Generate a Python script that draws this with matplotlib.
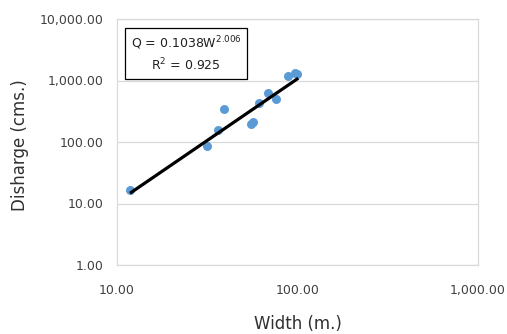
import matplotlib
matplotlib.use("Agg")
import matplotlib.pyplot as plt
import numpy as np
from matplotlib.ticker import FuncFormatter, NullLocator, FixedLocator

width_m = [11.8, 31.7, 36.4, 39.3, 55.2, 57.0, 61.4, 68.9, 75.7, 88.3, 97.0, 99.0]
discharge = [16.5, 85, 158, 344, 199, 212, 430, 625, 505, 1162, 1300, 1285]
coef_a = 0.1038
coef_b = 2.006
r2 = 0.925

plt.rcParams['font.family'] = ['DejaVu Sans']

W, H = 507, 334
L, R, B, T = 117, 478, 265, 19
fig = plt.figure(figsize=(W / 100, H / 100), dpi=100)
ax = fig.add_axes([L / W, 1 - B / H, (R - L) / W, (B - T) / H])

ax.set_xscale('log')
ax.set_yscale('log')
ax.set_xlim(10, 1000)
ax.set_ylim(1, 10000)

ax.yaxis.set_major_locator(FixedLocator([1, 10, 100, 1000, 10000]))
ax.xaxis.set_major_locator(FixedLocator([10, 100, 1000]))
ax.xaxis.set_minor_locator(NullLocator())
ax.yaxis.set_minor_locator(NullLocator())
fmt = FuncFormatter(lambda v, p: f"{v:,.2f}")
ax.xaxis.set_major_formatter(fmt)
ax.yaxis.set_major_formatter(fmt)

ax.grid(axis='y', color='#d9d9d9', linewidth=0.9)
ax.set_axisbelow(True)
for s in ax.spines.values():
    s.set_color('#d9d9d9')
    s.set_linewidth(0.9)
ax.tick_params(length=0, labelsize=9, colors='#404040')
ax.tick_params(axis='x', pad=14)
ax.tick_params(axis='y', pad=10)

ax.scatter(width_m, discharge, s=42, color='#5B9BD5', zorder=3, linewidths=0)

wx = np.array([min(width_m), 101.0])
ax.plot(wx, coef_a * wx ** coef_b, color='black', linewidth=2.3, zorder=4,
        solid_capstyle='butt')

ax.text((186 - L) / (R - L), (B - 54) / (B - T),
        f"Q = {coef_a}W$^{{{coef_b}}}$\nR$^2$ = {r2}",
        transform=ax.transAxes, fontsize=9, ha='center', va='center',
        multialignment='center', color='#202020', linespacing=1.3,
        bbox=dict(boxstyle='square,pad=0.45', fc='white', ec='black', lw=0.9),
        zorder=5)

ax.set_xlabel('Width (m.)', fontsize=12, color='#303030', va='center')
ax.xaxis.set_label_coords(0.5, (B - 324) / (B - T))
ax.set_ylabel('Disharge (cms.)', fontsize=12, color='#303030', va='center', ha='center')
ax.yaxis.set_label_coords((20 - L) / (R - L), (B - 145) / (B - T))

fig.savefig('out.png', dpi=100)
